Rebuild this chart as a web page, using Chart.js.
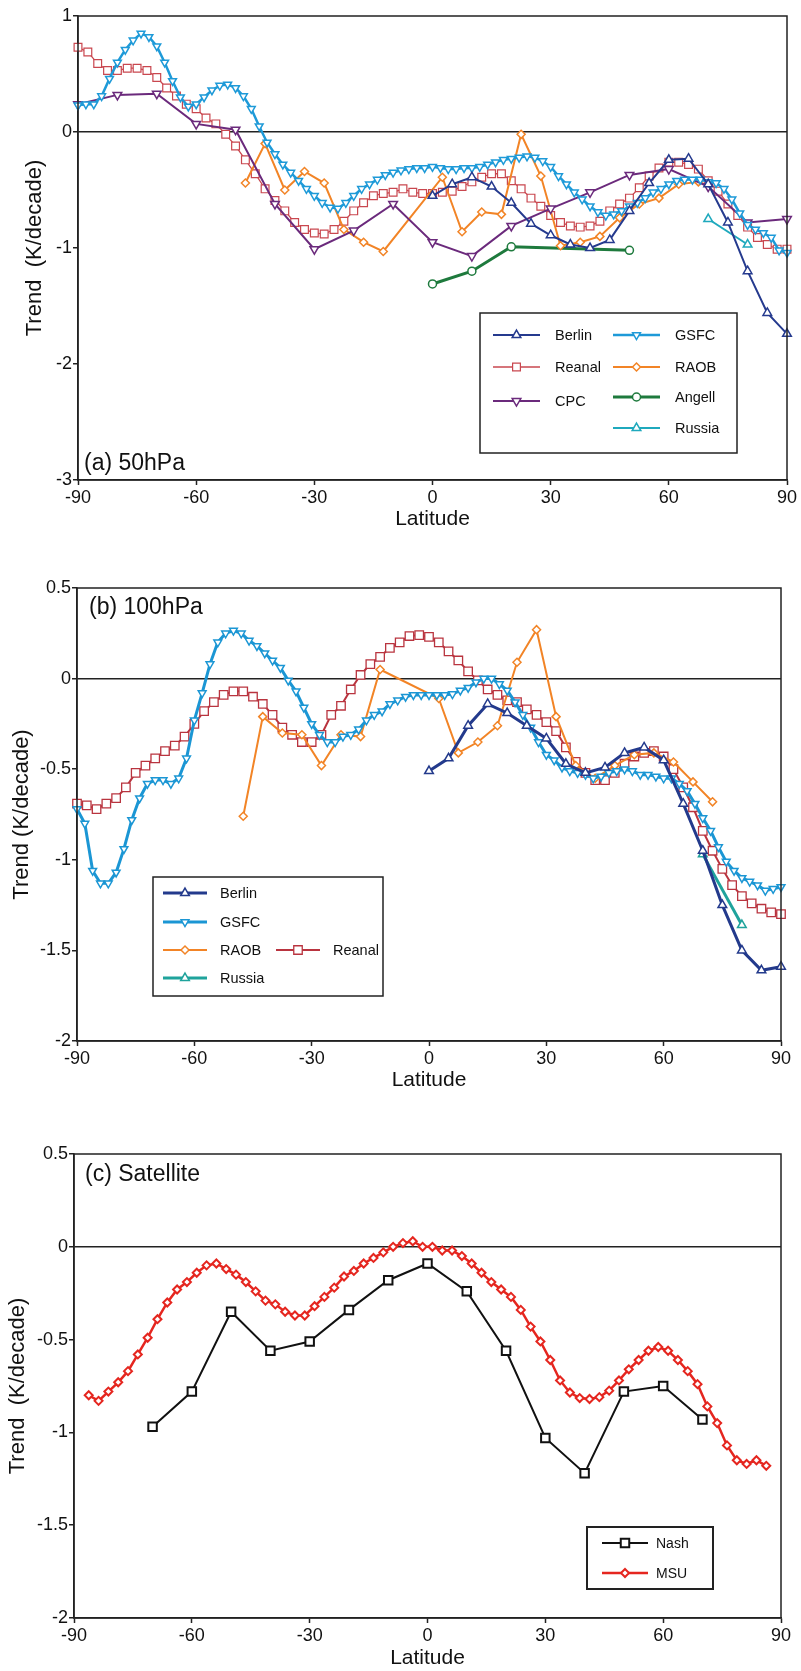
<!DOCTYPE html>
<html>
<head>
<meta charset="utf-8">
<script src="https://cdn.jsdelivr.net/npm/chart.js@4.4.1/dist/chart.umd.min.js"></script>
<style>
  html, body { margin: 0; padding: 0; background: #fff; }
  body { width: 801px; height: 1671px; position: relative; overflow: hidden; }
  canvas { position: absolute; left: 0; }
</style>
</head>
<body>
<canvas id="chartA" width="801" height="532" style="top:0px"></canvas>
<canvas id="chartB" width="801" height="553" style="top:540px"></canvas>
<canvas id="chartC" width="801" height="578" style="top:1093px"></canvas>
<script>
// latitude grid for the densely sampled series
const grid = (from, to, step) =>
    Array.from({ length: Math.round((to - from) / step) + 1 }, (_, i) => from + i * step);

// ----------------- tick labels ----------------- //
const latTicks = [-90, -60, -30, 0, 30, 60, 90];
const yTicksA = [1, 0, -1, -2, -3];
const yTicksB = [0.5, 0, -0.5, -1, -1.5, -2];
const yTicksC = [0.5, 0, -0.5, -1, -1.5, -2];

// ----------------- (a) 50hPa ----------------- //
const berlinLatA = [0, 5, 10, 15, 20, 25, 30, 35, 40, 45, 50, 55, 60, 65, 70, 75, 80, 85, 90];
const berlinA = [-0.55, -0.45, -0.39, -0.47, -0.61, -0.79, -0.89, -0.97, -1.0, -0.93, -0.68, -0.44, -0.24, -0.23, -0.45, -0.78, -1.2, -1.56, -1.74];

const reanalLatA = grid(-90, 90, 2.5);
const reanalA = [
    0.73, 0.69, 0.59, 0.53, 0.53, 0.55, 0.55, 0.53, 0.47, 0.38, 0.31, 0.24, 0.2, 0.12, 0.07, -0.02, -0.12,
    -0.24, -0.36, -0.49, -0.59, -0.68, -0.78, -0.84, -0.87, -0.88, -0.84, -0.77, -0.68, -0.61, -0.55, -0.53, -0.52,
    -0.49, -0.52, -0.53, -0.53, -0.52, -0.51, -0.47, -0.43, -0.39, -0.36, -0.36, -0.42, -0.49, -0.57, -0.64, -0.72,
    -0.78, -0.81, -0.82, -0.81, -0.77, -0.68, -0.62, -0.57, -0.48, -0.38, -0.31, -0.26, -0.26, -0.28, -0.32, -0.42,
    -0.51, -0.62, -0.72, -0.82, -0.91, -0.97, -1.01, -1.01,
];

const cpcLatA = [-90, -80, -70, -60, -50, -40, -30, -20, -10, 0, 10, 20, 30, 40, 50, 60, 70, 80, 90];
const cpcA = [0.24, 0.32, 0.33, 0.07, 0.02, -0.62, -1.01, -0.85, -0.62, -0.95, -1.07, -0.81, -0.66, -0.52, -0.37, -0.32, -0.47, -0.78, -0.75];

const gsfcLatA = grid(-90, 90, 2);
const gsfcA = [
    0.23, 0.24, 0.24, 0.31, 0.46, 0.6, 0.71, 0.79, 0.85, 0.82, 0.74, 0.6, 0.44, 0.3, 0.22, 0.24, 0.3, 0.36, 0.4,
    0.41, 0.38, 0.31, 0.2, 0.05, -0.09, -0.19, -0.28, -0.35, -0.42, -0.49, -0.55, -0.61, -0.65, -0.66, -0.61,
    -0.55, -0.49, -0.45, -0.41, -0.37, -0.35,
    -0.33, -0.32, -0.31, -0.31, -0.3, -0.31, -0.32, -0.32, -0.31, -0.31, -0.3, -0.28, -0.26, -0.24, -0.23, -0.22,
    -0.21, -0.22, -0.25, -0.3, -0.38, -0.45, -0.52, -0.58, -0.64, -0.69, -0.72, -0.71, -0.68, -0.64, -0.61, -0.57,
    -0.52, -0.49, -0.45, -0.42, -0.41, -0.41, -0.41, -0.43, -0.44, -0.49, -0.58, -0.7, -0.8, -0.84, -0.87, -0.91,
    -1.02, -1.04,
];

const raobLatA = [-47.5, -42.5, -37.5, -32.5, -27.5, -22.5, -17.5, -12.5, 2.5, 7.5, 12.5, 17.5, 22.5, 27.5, 32.5, 37.5, 42.5, 47.5, 52.5, 57.5, 62.5, 67.5];
const raobA = [-0.44, -0.1, -0.5, -0.34, -0.44, -0.84, -0.95, -1.03, -0.39, -0.86, -0.69, -0.71, -0.02, -0.38, -0.98, -0.95, -0.9, -0.74, -0.62, -0.57, -0.45, -0.43];

const angellLatA = [0, 10, 20, 50];
const angellA = [-1.31, -1.2, -0.99, -1.02];

const russiaLatA = [70, 80];
const russiaA = [-0.75, -0.97];

// ----------------- (b) 100hPa ----------------- //
const berlinLatB = [0, 5, 10, 15, 20, 25, 30, 35, 40, 45, 50, 55, 60, 65, 70, 75, 80, 85, 90];
const berlinB = [-0.51, -0.44, -0.26, -0.14, -0.19, -0.26, -0.33, -0.47, -0.52, -0.49, -0.41, -0.38, -0.45, -0.69, -0.95, -1.25, -1.5, -1.61, -1.59];

const gsfcLatB = grid(-90, 90, 2);
const gsfcB = [
    -0.72, -0.8, -1.06, -1.13, -1.13, -1.07, -0.94, -0.78, -0.66, -0.58, -0.56, -0.56, -0.58, -0.55, -0.44, -0.23,
    -0.08, 0.08, 0.2, 0.25, 0.265, 0.25, 0.21, 0.18, 0.14, 0.1, 0.06, -0.01, -0.07, -0.16, -0.25, -0.31, -0.35,
    -0.35, -0.32, -0.31, -0.28, -0.23, -0.2, -0.18, -0.14,
    -0.12, -0.1, -0.09, -0.09, -0.09, -0.09, -0.09, -0.085, -0.065, -0.05, -0.02, 0.0, 0.0, -0.03, -0.065, -0.13,
    -0.2, -0.27, -0.35, -0.42, -0.45, -0.49, -0.51, -0.52, -0.53, -0.55, -0.54, -0.52, -0.51, -0.5, -0.51, -0.53,
    -0.53, -0.54, -0.55, -0.55, -0.58, -0.62, -0.69, -0.77, -0.84, -0.93, -1.01, -1.06, -1.1, -1.12, -1.14, -1.17,
    -1.16, -1.15,
];

const raobLatB = [-47.5, -42.5, -37.5, -32.5, -27.5, -22.5, -17.5, -12.5, 2.5, 7.5, 12.5, 17.5, 22.5, 27.5, 32.5, 37.5, 42.5, 47.5, 52.5, 57.5, 62.5, 67.5, 72.5];
const raobB = [-0.76, -0.21, -0.3, -0.31, -0.48, -0.31, -0.32, 0.05, -0.11, -0.41, -0.35, -0.26, 0.09, 0.27, -0.21, -0.48, -0.55, -0.48, -0.42, -0.41, -0.46, -0.57, -0.68];

const reanalLatB = grid(-90, 90, 2.5);
const reanalB = [
    -0.69, -0.7, -0.72, -0.69, -0.66, -0.6, -0.52, -0.48, -0.44, -0.4, -0.37, -0.32, -0.25, -0.18, -0.13, -0.09,
    -0.07, -0.07, -0.1, -0.14, -0.2, -0.27, -0.31, -0.35, -0.35, -0.31, -0.2, -0.15, -0.06, 0.02, 0.08, 0.12, 0.17,
    0.2, 0.235, 0.24, 0.23, 0.2, 0.15, 0.1, 0.04, -0.01, -0.06, -0.09, -0.12, -0.13, -0.17, -0.2, -0.24, -0.29,
    -0.38, -0.46, -0.52, -0.56, -0.56, -0.52, -0.47, -0.43, -0.41, -0.4, -0.43, -0.5, -0.6, -0.71, -0.84, -0.95,
    -1.05, -1.14, -1.2, -1.24, -1.27, -1.29, -1.3,
];

const russiaLatB = [70, 80];
const russiaB = [-0.97, -1.36];

// ----------------- (c) Satellite ----------------- //
const nashLat = [-70, -60, -50, -40, -30, -20, -10, 0, 10, 20, 30, 40, 50, 60, 70];
const nash = [-0.97, -0.78, -0.35, -0.56, -0.51, -0.34, -0.18, -0.09, -0.24, -0.56, -1.03, -1.22, -0.78, -0.75, -0.93];

const msuLat = grid(-86.25, 86.25, 2.5);
const msu = [
    -0.8, -0.83, -0.78, -0.73, -0.67, -0.58, -0.49, -0.39, -0.3, -0.23, -0.19, -0.14, -0.1, -0.09, -0.12, -0.15,
    -0.19, -0.24, -0.29, -0.31, -0.35, -0.37, -0.37, -0.32, -0.27, -0.22, -0.16, -0.13, -0.09, -0.06, -0.03, 0.0,
    0.02, 0.03, 0.0, 0.0, -0.02, -0.02, -0.05, -0.09, -0.14, -0.19, -0.23, -0.27, -0.34, -0.43, -0.51, -0.61,
    -0.72, -0.785, -0.815, -0.82, -0.81, -0.775, -0.72, -0.66, -0.61, -0.56, -0.54, -0.56, -0.61, -0.67, -0.74,
    -0.86, -0.95, -1.07, -1.15, -1.17, -1.15, -1.18,
];

// ----------------- helpers ----------------- //
const FONT = '"Liberation Sans", Arial, Helvetica, sans-serif';
Chart.defaults.font.family = FONT;
Chart.defaults.color = "#111";

function series(label, lats, vals, style) {
    return Object.assign(
        {
            label: label,
            data: lats.map((x, i) => ({ x: x, y: vals[i] })),
            fill: false,
            tension: 0,
            clip: false,
            pointBackgroundColor: "#fff",
            pointBorderColor: style.borderColor,
            pointHoverRadius: 0,
        },
        style
    );
}

// box round the plot, panel label and the boxed legend
const framePlugin = {
    id: "frame",
    afterDatasetsDraw(chart, args, opts) {
        const ctx = chart.ctx;
        const a = chart.chartArea;
        ctx.save();
        ctx.strokeStyle = "#222";
        ctx.lineWidth = 1.5;
        ctx.strokeRect(a.left, a.top, a.right - a.left, a.bottom - a.top);

        ctx.fillStyle = "#111";
        ctx.font = "23px " + FONT;
        ctx.textAlign = "left";
        ctx.textBaseline = "alphabetic";
        ctx.fillText(opts.label.text, opts.label.x, opts.label.y);

        const lg = opts.legend;
        const [bx, by, bw, bh] = lg.box;
        ctx.fillStyle = "#fff";
        ctx.fillRect(bx, by, bw, bh);
        ctx.lineWidth = lg.boxWidth;
        ctx.strokeStyle = "#222";
        ctx.strokeRect(bx, by, bw, bh);

        ctx.font = lg.font + "px " + FONT;
        ctx.textBaseline = "middle";
        lg.items.forEach(([name, x, y]) => {
            const ds = chart.data.datasets.find((d) => d.label === name);
            ctx.strokeStyle = ds.borderColor;
            ctx.lineWidth = ds.borderWidth;
            ctx.beginPath();
            ctx.moveTo(x, y);
            ctx.lineTo(x + lg.line, y);
            ctx.stroke();
            ctx.fillStyle = "#fff";
            ctx.strokeStyle = ds.pointBorderColor;
            ctx.lineWidth = ds.pointBorderWidth;
            Chart.helpers.drawPoint(
                ctx,
                {
                    pointStyle: ds.pointStyle,
                    radius: ds.pointRadius,
                    rotation: ds.pointRotation || 0,
                    borderWidth: ds.pointBorderWidth,
                },
                x + lg.line / 2,
                y
            );
            ctx.fillStyle = "#111";
            ctx.fillText(name, x + lg.line + lg.gap, y + 1);
        });
        ctx.restore();
    },
};

function makeScales(yMin, yMax, yTicks, left, xHeight, titlePad, yTitle) {
    return {
        x: {
            type: "linear",
            min: -90,
            max: 90,
            afterBuildTicks: (s) => { s.ticks = latTicks.map((v) => ({ value: v })); },
            afterFit: (s) => { s.height = xHeight; },
            ticks: { font: { size: 18 }, color: "#111", padding: 2, maxRotation: 0, callback: (v) => String(v) },
            grid: { drawOnChartArea: false, tickLength: 5, tickColor: "#222", tickWidth: 1.5 },
            border: { color: "#222", width: 1.5 },
            title: { display: true, text: "Latitude", font: { size: 21 }, color: "#111", padding: 0 },
        },
        y: {
            type: "linear",
            min: yMin,
            max: yMax,
            afterBuildTicks: (s) => { s.ticks = yTicks.map((v) => ({ value: v })); },
            afterFit: (s) => { s.width = left; },
            ticks: { font: { size: 18 }, color: "#111", padding: 1, callback: (v) => String(v) },
            grid: {
                color: (c) => (c.tick && c.tick.value === 0 ? "#222" : "rgba(0,0,0,0)"),
                lineWidth: 1.5,
                tickLength: 5,
                tickColor: "#222",
                tickWidth: 1.5,
            },
            border: { color: "#222", width: 1.5 },
            title: { display: true, text: yTitle, font: { size: 22 }, color: "#111", padding: { top: titlePad, bottom: 0 } },
        },
    };
}

function baseOptions(padding, scales, frame) {
    return {
        responsive: false,
        animation: false,
        events: [],
        layout: { padding: padding },
        scales: scales,
        plugins: { legend: { display: false }, tooltip: { enabled: false }, frame: frame },
    };
}

// ----------------- (a) 50hPa ----------------- //
new Chart(document.getElementById("chartA"), {
    type: "line",
    data: {
        datasets: [
            series("Berlin", berlinLatA, berlinA, { borderColor: "#253a8e", borderWidth: 2, pointStyle: "triangle", pointRadius: 5, pointBorderWidth: 1.5 }),
            series("GSFC", gsfcLatA, gsfcA, { borderColor: "#1e9ad8", borderWidth: 2.5, pointStyle: "triangle", pointRotation: 180, pointRadius: 4.5, pointBorderWidth: 1.5 }),
            series("CPC", cpcLatA, cpcA, { borderColor: "#6b2a7c", borderWidth: 2, pointStyle: "triangle", pointRotation: 180, pointRadius: 5, pointBorderWidth: 1.5 }),
            series("RAOB", raobLatA, raobA, { borderColor: "#f28426", borderWidth: 2, pointStyle: "rectRot", pointRadius: 4, pointBorderWidth: 1.5 }),
            series("Angell", angellLatA, angellA, { borderColor: "#1e7a3d", borderWidth: 3, pointStyle: "circle", pointRadius: 4, pointBorderWidth: 1.5 }),
            series("Russia", russiaLatA, russiaA, { borderColor: "#1fa9bd", borderWidth: 2, pointStyle: "triangle", pointRadius: 5, pointBorderWidth: 1.5 }),
            series("Reanal", reanalLatA, reanalA, { borderColor: "#c9474f", borderWidth: 1.3, pointStyle: "rect", pointRadius: 5.5, pointBorderWidth: 1.2 }),
        ],
    },
    options: baseOptions(
        { left: 0, top: 16, right: 14, bottom: 0 },
        makeScales(-3, 1, yTicksA, 78, 52, 22, "Trend  (K/decade)"),
        {
            label: { text: "(a) 50hPa", x: 84, y: 470 },
            legend: {
                box: [480, 313, 257, 140],
                boxWidth: 1.5,
                font: 14.5,
                line: 47,
                gap: 15,
                items: [
                    ["Berlin", 493, 335],
                    ["Reanal", 493, 367],
                    ["CPC", 493, 401],
                    ["GSFC", 613, 335],
                    ["RAOB", 613, 367],
                    ["Angell", 613, 397],
                    ["Russia", 613, 428],
                ],
            },
        }
    ),
    plugins: [framePlugin],
});

// ----------------- (b) 100hPa ----------------- //
new Chart(document.getElementById("chartB"), {
    type: "line",
    data: {
        datasets: [
            series("Berlin", berlinLatB, berlinB, { borderColor: "#233a8c", borderWidth: 3, pointStyle: "triangle", pointRadius: 5, pointBorderWidth: 1.5 }),
            series("Russia", russiaLatB, russiaB, { borderColor: "#1fa39c", borderWidth: 3, pointStyle: "triangle", pointRadius: 5, pointBorderWidth: 1.5 }),
            series("GSFC", gsfcLatB, gsfcB, { borderColor: "#1b96d4", borderWidth: 3, pointStyle: "triangle", pointRotation: 180, pointRadius: 4.5, pointBorderWidth: 1.5 }),
            series("RAOB", raobLatB, raobB, { borderColor: "#f28426", borderWidth: 2, pointStyle: "rectRot", pointRadius: 4, pointBorderWidth: 1.5 }),
            series("Reanal", reanalLatB, reanalB, { borderColor: "#b9343f", borderWidth: 2, pointStyle: "rect", pointRadius: 6, pointBorderWidth: 1.3 }),
        ],
    },
    options: baseOptions(
        { left: 0, top: 48, right: 20, bottom: 0 },
        makeScales(-2, 0.5, yTicksB, 77, 52, 9, "Trend (K/decade)"),
        {
            label: { text: "(b) 100hPa", x: 89, y: 74 },
            legend: {
                box: [153, 337, 230, 119],
                boxWidth: 1.5,
                font: 14.5,
                line: 44,
                gap: 13,
                items: [
                    ["Berlin", 163, 353],
                    ["GSFC", 163, 382],
                    ["RAOB", 163, 410],
                    ["Russia", 163, 438],
                    ["Reanal", 276, 410],
                ],
            },
        }
    ),
    plugins: [framePlugin],
});

// ----------------- (c) Satellite ----------------- //
new Chart(document.getElementById("chartC"), {
    type: "line",
    data: {
        datasets: [
            series("Nash", nashLat, nash, { borderColor: "#111", borderWidth: 2, pointStyle: "rect", pointRadius: 6, pointBorderWidth: 2 }),
            series("MSU", msuLat, msu, { borderColor: "#e5261f", borderWidth: 2.5, pointStyle: "rectRot", pointRadius: 4, pointBorderWidth: 2 }),
        ],
    },
    options: baseOptions(
        { left: 0, top: 61, right: 20, bottom: 0 },
        makeScales(-2, 0.5, yTicksC, 74, 53, 5, "Trend  (K/decade)"),
        {
            label: { text: "(c) Satellite", x: 85, y: 88 },
            legend: {
                box: [587, 434, 126, 62],
                boxWidth: 2,
                font: 14,
                line: 46,
                gap: 8,
                items: [
                    ["Nash", 602, 450],
                    ["MSU", 602, 480],
                ],
            },
        }
    ),
    plugins: [framePlugin],
});
</script>
</body>
</html>
